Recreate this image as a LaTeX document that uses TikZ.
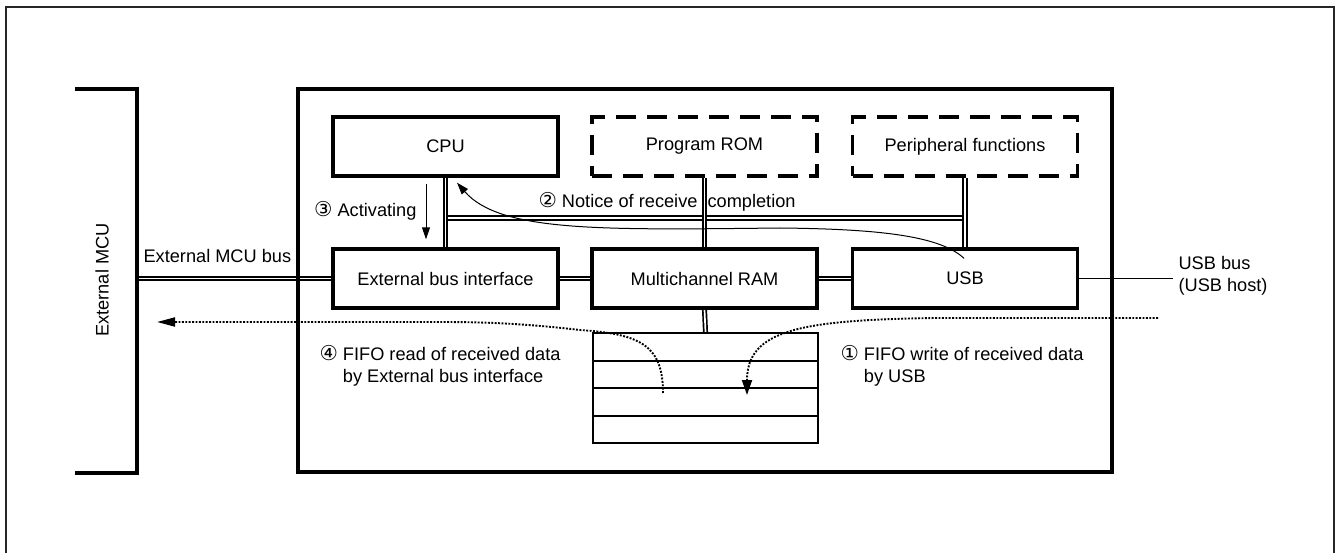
\documentclass[tikz,border=0pt]{standalone}
\usepackage{fontspec}
\setmainfont{Liberation Sans}
\newfontfamily\circfont{DejaVu Sans}
\newcommand{\circnum}[1]{{\circfont\fontsize{20.5}{22}\selectfont #1}}
\usetikzlibrary{arrows.meta,backgrounds}
\begin{document}
\begin{tikzpicture}[x=1pt,y=-1pt,
  every node/.style={font=\fontsize{18.2}{22}\selectfont},
  blk/.style={draw, line width=3.4pt, fill=white, minimum width=225pt, minimum height=59pt, inner sep=0pt},
  dblk/.style={blk, dash pattern=on 20pt off 11pt},
  fifo/.style={draw, line width=2.2pt, fill=white, minimum width=225pt, minimum height=27.5pt, inner sep=0pt},
  frame/.style={draw, line width=3.4pt, inner sep=0pt},
  bus/.style={draw, double, line width=1.7pt, double distance=1.7pt},
  thinarrow/.style={line width=1pt, -{Triangle[length=12pt,width=8pt]}},
  dotline/.style={line width=1.9pt, dash pattern=on 1.9pt off 1.5pt},
]
\useasboundingbox (0,0) rectangle (1337,553);
% outer border
\draw[line width=1.6pt, black!85] (6,560) -- (6,7) -- (1334,7) -- (1334,560);

% chip frame
\node[frame, minimum width=814pt, minimum height=383pt] (chip) at (705,280.5) {};

% external MCU bracket
\draw[line width=3.4pt] (75,89) -- (137,89) -- (137,473) -- (75,473);
\node[rotate=90] (mcu) at (102,280) {External MCU};

% blocks
\node[blk]  (cpu) at (445.5,146.5) {CPU};
\node[dblk] (rom) at (704.5,146.5) {Program ROM};
\node[dblk] (per) at (965,146.5) {Peripheral functions};
\node[blk]  (ebi) at (445.5,278.5) {External bus interface};
\node[blk]  (ram) at (704.5,278.5) {Multichannel RAM};
\node[blk]  (usb) at (965,278.5) {USB};

% FIFO
\node[fifo] (f1) at (705.5,347) {};
\node[fifo] (f2) at (705.5,374.5) {};
\node[fifo] (f3) at (705.5,402) {};
\node[fifo] (f4) at (705.5,429.5) {};

% coordinates
\coordinate (hb) at (0,218);
\coordinate (mcubus) at (137,278.5);
\coordinate (usbext) at (1173,278.5);
\coordinate (usbin) at (1158,318);
\coordinate (wtip) at (747,395);
\coordinate (rstart) at (663,393);
\coordinate (mcutip) at (157,322);

% buses
\begin{scope}[on background layer]
\draw[bus] (cpu.south |- hb) -- (per.south |- hb);
\draw[bus] (cpu.south) -- (ebi.north);
\draw[bus] (rom.south) -- (ram.north);
\draw[bus] (per.south) -- (usb.north);
\draw[bus] (ebi.east) -- (ram.west);
\draw[bus] (ram.east) -- (usb.west);
\draw[bus] (ram.south) -- (f1.north);
\draw[bus] (mcubus) -- (ebi.west);
\end{scope}
\draw[line width=1.6pt] (usb.east) -- (usbext);

% labels
\node[anchor=west] (mcubuslbl) at (140,256) {External MCU bus};
\node[anchor=west, align=left] (usbbus) at (1175,276) {USB bus\\(USB host)};
\node[anchor=east] (act) at (420,211) {\circnum{③} Activating};
\node[anchor=west] (notice) at (535,202) {\circnum{②} Notice of receive\hspace{5pt} completion};
\node[align=left] (step4) at (440,366) {\circnum{④} FIFO read of received data\\\hphantom{\circnum{④}\ }by External bus interface};
\node[align=left] (step1) at (962,366) {\circnum{①} FIFO write of received data\\\hphantom{\circnum{①}\ }by USB};

% arrows
\draw[thinarrow] ([xshift=-19.5pt,yshift=-6pt]cpu.south) -- ([xshift=-19.5pt,yshift=8pt]ebi.north);
\draw[thinarrow] ([xshift=-1pt,yshift=-11pt]usb.north) .. controls (940,236) and (880,229) .. (780,228) .. controls (600,230) and (500,232) .. ([xshift=11.5pt,yshift=-5pt]cpu.south);

% data flow (dotted)
\draw[dotline, -{Triangle[length=15pt,width=10pt]}] (usbin) -- (935,318) .. controls (800,320) and (747,330) .. (wtip);
\draw[dotline, -{Triangle[length=18pt,width=9pt]}] (rstart) .. controls (663,345) and (640,334) .. (580,330) .. controls (520,323) and (480,322) .. (440,322) -- (mcutip);
\end{tikzpicture}
\end{document}
